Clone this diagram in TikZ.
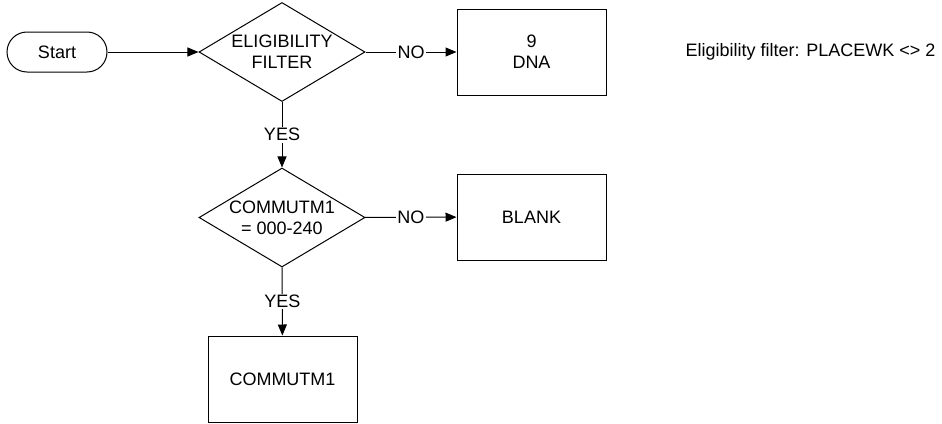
\documentclass[tikz,border=0pt]{standalone}
\usepackage{fontspec}
\setmainfont{Liberation Sans}
\usetikzlibrary{shapes,arrows.meta,positioning}

\begin{document}
\begin{tikzpicture}[x=1pt, y=-1pt, font=\fontsize{18}{21}\selectfont,
    terminal/.style={draw, line width=1pt, rounded corners=20pt, minimum width=100pt, minimum height=40pt, inner sep=0pt},
    decision/.style={draw, line width=1pt, diamond, minimum width=166pt, minimum height=99pt, inner sep=0pt},
    outbox/.style={draw, line width=1pt, minimum width=149pt, minimum height=86pt, inner sep=0pt, align=center},
    flow/.style={line width=1pt, -{Triangle[length=11pt, width=9pt]}},
    tag/.style={fill=white, inner sep=1.5pt}]
    \useasboundingbox (0,0) rectangle (942,423);

    % nodes
    \node[terminal] (start) at (57,52) {Start};
    \node[decision, label={[align=center]center:ELIGIBILITY\\FILTER}] (elig) at (282,52) {};
    \node[outbox] (dna) at (531.5,52) {9\\DNA};
    \node (note) at (810.5,52) {Eligibility filter: PLACEWK <> 2};
    \node[decision, label={[align=center]center:COMMUTM1\\= 000-240}] (comm) at (282,217.5) {};
    \node[outbox] (blank) at (531.5,217) {BLANK};
    \node[outbox] (commbox) at (282.5,379) {COMMUTM1};

    % connectors
    \draw[flow] (start) -- (elig);
    \draw[flow] (elig) -- node[tag] {NO} (dna);
    \draw[flow] (elig) -- node[tag] {YES} (comm);
    \draw[flow] (comm) -- node[tag] {NO} (blank);
    \draw[flow] (comm) -- node[tag] {YES} (commbox);
\end{tikzpicture}
\end{document}
